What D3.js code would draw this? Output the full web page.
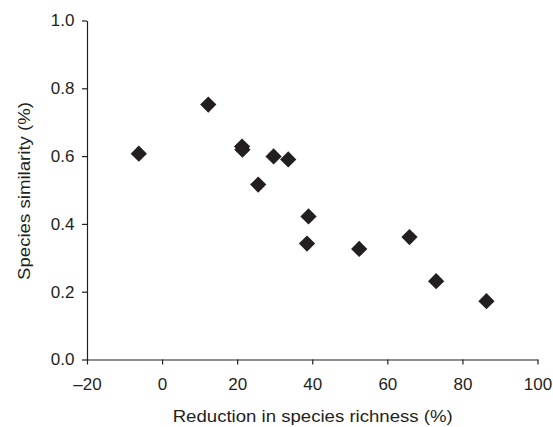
<!DOCTYPE html>
<html><head><meta charset="utf-8">
<script src="https://cdn.jsdelivr.net/npm/d3@7"></script>
<style>body{margin:0;background:#fff}svg{display:block}text{font-family:"Liberation Sans",Arial,sans-serif}</style>
</head><body>
<svg id="c" width="553" height="427"></svg>
<script>
const reduction = [-6.2, 12.3, 21.3, 21.4, 25.6, 29.7, 33.6, 39.0, 38.6, 52.5, 65.9, 73.0, 86.4];
const similarity = [0.607, 0.752, 0.628, 0.619, 0.516, 0.599, 0.590, 0.422, 0.342, 0.326, 0.361, 0.231, 0.172];
const xTicks = [-20, 0, 20, 40, 60, 80, 100];
const yTicks = [0, 0.2, 0.4, 0.6, 0.8, 1.0];
const xTitle = "Reduction in species richness (%)";
const yTitle = "Species similarity (%)";

const svg = d3.select("#c");
const x = d3.scaleLinear().domain([-20, 100]).range([87, 537.5]);
const y = d3.scaleLinear().domain([0, 1]).range([359.5, 20.5]);
const fmtX = d => d < 0 ? "\u2013" + Math.abs(d) : String(d);

const gx = svg.append("g").attr("transform", "translate(0,359.5)")
  .call(d3.axisBottom(x).tickValues(xTicks).tickSize(5).tickSizeOuter(0).tickPadding(13).tickFormat(fmtX));
const gy = svg.append("g").attr("transform", "translate(87,0)")
  .call(d3.axisLeft(y).tickValues(yTicks).tickSize(5).tickSizeOuter(0).tickPadding(7.5).tickFormat(d3.format(".1f")));
[gx, gy].forEach(g => {
  g.select(".domain").attr("stroke", "#231f20").attr("stroke-width", 1.2);
  g.selectAll(".tick line").attr("stroke", "#231f20").attr("stroke-width", 1.2);
  g.selectAll(".tick text").attr("fill", "#231f20").style("font-size", "17px").style("font-family", "Liberation Sans, Arial, sans-serif");
});

svg.append("g").selectAll("path").data(reduction.map((r, i) => [r, similarity[i]]))
  .join("path")
  .attr("transform", d => `translate(${x(d[0])},${y(d[1])}) rotate(45)`)
  .attr("d", d3.symbol().type(d3.symbolSquare).size(132))
  .attr("fill", "#231f20");

svg.append("text").attr("x", 312.7).attr("y", 422).attr("text-anchor", "middle")
  .attr("textLength", 280).attr("lengthAdjust", "spacingAndGlyphs")
  .style("font-size", "16px").attr("fill", "#231f20").text(xTitle);
svg.append("text").attr("transform", "translate(30,191) rotate(-90)").attr("text-anchor", "middle")
  .attr("textLength", 178).attr("lengthAdjust", "spacingAndGlyphs")
  .style("font-size", "16px").attr("fill", "#231f20").text(yTitle);
</script>
</body></html>
